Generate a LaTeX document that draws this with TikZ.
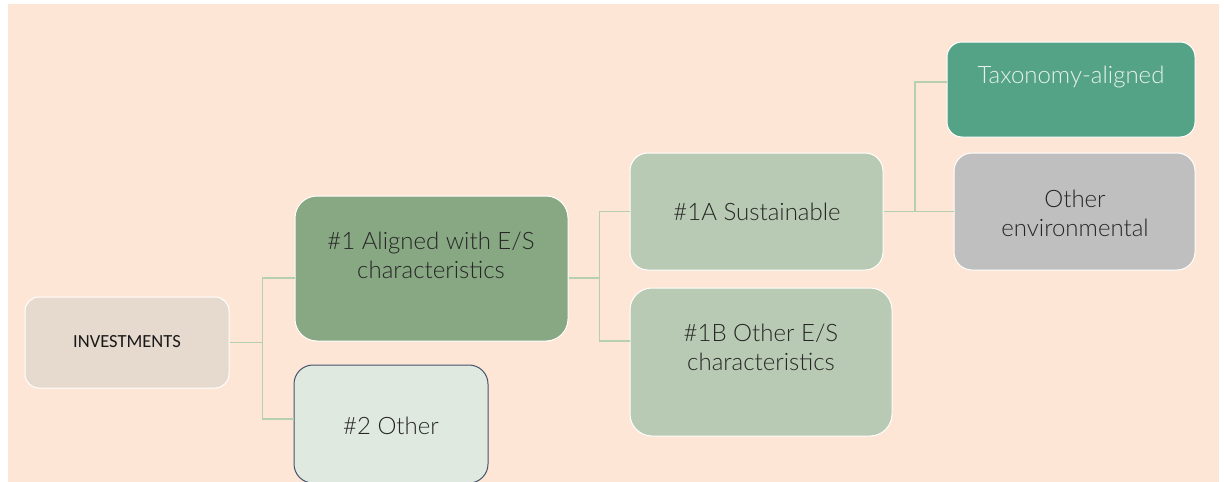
\documentclass[tikz,border=0pt]{standalone}
\usepackage{fontspec}
\usetikzlibrary{calc}
\setmainfont{Lato Light}
\newfontfamily\carl{Carlito}
\definecolor{cBg}{HTML}{FEE6D6}
\definecolor{cInv}{HTML}{E6D9CD}
\definecolor{cOne}{HTML}{88A783}
\definecolor{cOneA}{HTML}{B8CAB3}
\definecolor{cTwo}{HTML}{E0E9E0}
\definecolor{cTwoLine}{HTML}{44546A}
\definecolor{cTax}{HTML}{55A386}
\definecolor{cOenv}{HTML}{BFBFBF}
\definecolor{cConn}{HTML}{B5CFAF}
\definecolor{cText}{HTML}{262626}
\definecolor{cTaxText}{HTML}{E6F2EC}
\tikzset{
  boxnode/.style={rectangle, draw=white, line width=1pt, inner sep=0pt},
  txt/.style={align=center, inner sep=0pt, text=cText, font=\fontsize{24}{29}\selectfont},
  conn/.style={draw=cConn, line width=1.3pt}
}
\begin{document}
\begin{tikzpicture}[x=1pt,y=-1pt]
\useasboundingbox (0,0) rectangle (1224,482);
\fill[cBg] (8,4) rectangle (1219,482);
% boxes
\node[boxnode, fill=cInv, minimum width=204pt, minimum height=91pt, rounded corners=14pt] (inv) at (127,342.5) {};
\node[boxnode, fill=cOne, minimum width=273pt, minimum height=145pt, rounded corners=22pt] (b1) at (431.5,268.5) {};
\node[boxnode, fill=cTwo, draw=cTwoLine, minimum width=194pt, minimum height=118pt, rounded corners=19pt] (b2) at (391,424) {};
\node[boxnode, fill=cOneA, minimum width=253pt, minimum height=117pt, rounded corners=18pt] (b1a) at (756.5,211.5) {};
\node[boxnode, fill=cOneA, minimum width=262pt, minimum height=148pt, rounded corners=22pt] (b1b) at (761,362) {};
\node[boxnode, fill=cTax, minimum width=248pt, minimum height=95pt, rounded corners=15pt] (tax) at (1071,89.5) {};
\node[boxnode, fill=cOenv, minimum width=241pt, minimum height=117pt, rounded corners=18pt] (oenv) at (1074.5,211.5) {};
% texts
\node[txt] (tinv) at (127,342) {\carl\fontsize{18.5}{22}\selectfont\color{black!90}INVESTMENTS};
\node[txt] (tb1) at (431,255) {\#1 Aligned with E/S\\characteristics};
\node[txt] (tb2) at (391,426) {\#2 Other};
\node[txt] (tb1a) at (757,212) {\#1A Sustainable};
\node[txt] (tb1b) at (761,347) {\#1B Other E/S\\characteristics};
\node[txt, text=cTaxText] (ttax) at (1071,77) {Taxonomy-aligned};
\node[txt] (toenv) at (1075,213) {Other\\environmental};
% connectors
\coordinate (p1) at ([yshift=-9.5pt]b1.west);
\coordinate (p2) at ([yshift=5pt]b2.west);
\draw[conn] (inv.east) -- ++(33,0) coordinate (j1);
\draw[conn] (p1) -| (j1) |- (p2);
\coordinate (q0) at ([yshift=-9.5pt]b1.east);
\coordinate (q2) at ([yshift=21pt]b1b.west);
\draw[conn] (q0) -- ++(31,0) coordinate (j2);
\draw[conn] (b1a.west) -| (j2) |- (q2);
\coordinate (r1) at ([yshift=7.5pt]tax.west);
\draw[conn] (b1a.east) -- (oenv.west);
\coordinate (j3) at ($(b1a.east)!0.45!(oenv.west)$);
\draw[conn] (r1) -| (j3);
\end{tikzpicture}
\end{document}
